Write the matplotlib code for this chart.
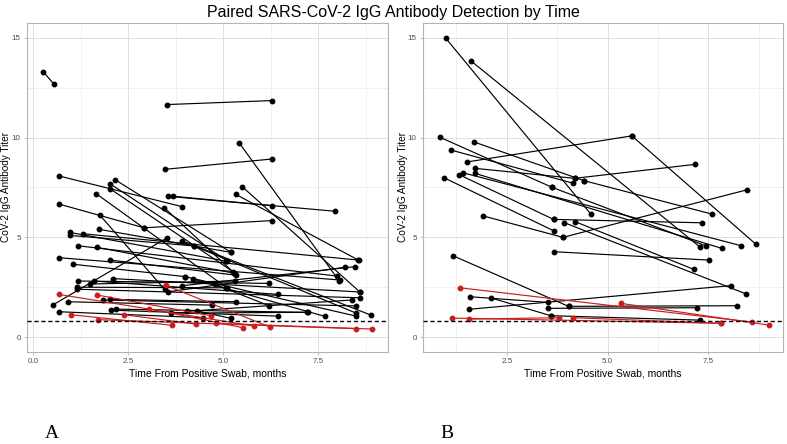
import matplotlib
matplotlib.use("Agg")
import matplotlib.pyplot as plt
from matplotlib.ticker import MultipleLocator

plt.rcParams['font.family'] = ['Liberation Sans', 'DejaVu Sans']

# paired titers: (months 1, titer 1, months 2, titer 2)
a_black = [
    (0.27, 13.30, 0.54, 12.70), (3.53, 11.66, 6.29, 11.86), (3.46, 8.41, 6.29, 8.93),
    (5.42, 9.75, 8.05, 2.83), (0.68, 8.08, 3.92, 6.54), (0.68, 6.67, 2.92, 5.48),
    (2.92, 5.48, 6.29, 5.84), (3.54, 7.06, 7.94, 6.31), (3.69, 7.06, 6.29, 6.59),
    (3.45, 6.49, 5.32, 3.16), (1.66, 7.19, 5.10, 2.47), (2.16, 7.89, 5.21, 4.25),
    (2.03, 7.68, 5.10, 3.83), (2.03, 7.43, 5.26, 3.28), (5.51, 7.53, 8.60, 2.26),
    (5.33, 7.16, 8.56, 3.86), (1.76, 6.11, 3.46, 2.39), (0.96, 5.25, 5.07, 3.81),
    (0.96, 5.10, 4.23, 4.57), (1.31, 5.18, 8.57, 3.86), (1.74, 5.40, 5.20, 4.25),
    (1.17, 4.58, 7.99, 3.06), (1.68, 4.50, 5.30, 3.20), (0.67, 3.98, 8.08, 2.86),
    (1.06, 3.65, 4.00, 3.03), (2.03, 3.86, 5.35, 3.10), (2.11, 2.93, 8.61, 2.26),
    (1.17, 2.81, 6.22, 2.69), (1.16, 2.50, 5.07, 2.47), (1.50, 2.66, 5.32, 2.81),
    (1.59, 2.81, 6.44, 2.14), (1.15, 2.40, 8.59, 1.97), (0.91, 1.77, 4.72, 1.60),
    (0.53, 1.62, 3.53, 4.98), (0.67, 1.27, 4.48, 0.97), (2.04, 1.35, 6.44, 1.05),
    (2.18, 1.40, 7.20, 1.24), (1.83, 1.86, 8.50, 1.56), (2.03, 1.89, 5.34, 1.77),
    (3.92, 4.83, 8.89, 1.10), (4.23, 4.57, 8.50, 1.20), (4.00, 3.03, 8.50, 1.05),
    (4.22, 2.90, 7.67, 1.04), (3.62, 1.20, 7.24, 1.24), (4.06, 1.29, 8.39, 1.86),
    (4.32, 1.31, 5.20, 0.94), (4.79, 2.64, 6.22, 1.56), (3.56, 2.27, 8.21, 3.50),
    (3.91, 2.57, 8.47, 3.53),
]
a_red = [
    (0.67, 2.14, 5.82, 0.55), (0.99, 1.12, 3.65, 0.59), (1.72, 0.87, 8.50, 0.42),
    (2.40, 1.12, 4.28, 0.65), (3.05, 1.42, 5.52, 0.47), (3.49, 2.59, 6.24, 0.50),
    (4.82, 0.69, 8.93, 0.40), (1.68, 2.11, 4.68, 1.07),
]
b_black = [
    (0.98, 15.00, 4.58, 6.17), (1.61, 13.85, 7.30, 4.50), (0.84, 10.02, 3.62, 7.51),
    (3.62, 7.51, 7.44, 4.57), (1.69, 9.78, 4.42, 7.84), (4.42, 7.84, 7.60, 6.16),
    (1.11, 9.38, 4.15, 7.71), (1.51, 8.78, 5.60, 10.09), (5.60, 10.09, 8.68, 4.65),
    (1.71, 8.46, 4.18, 7.96), (4.18, 7.96, 7.17, 8.66), (1.71, 8.21, 7.83, 4.45),
    (1.41, 8.24, 8.31, 4.58), (1.32, 8.14, 3.66, 5.90), (0.95, 7.98, 3.66, 5.33),
    (1.92, 6.07, 3.89, 5.00), (3.66, 5.90, 7.34, 5.73), (3.66, 4.28, 7.51, 3.86),
    (3.89, 5.00, 8.45, 7.38), (3.92, 5.74, 8.44, 2.16), (4.19, 5.79, 7.13, 3.40),
    (1.16, 4.08, 4.03, 1.54), (1.59, 2.02, 3.51, 1.74), (2.11, 1.96, 3.59, 1.07),
    (3.59, 1.07, 7.28, 0.85), (1.55, 1.39, 8.06, 2.58), (3.51, 1.44, 7.21, 1.47),
    (4.03, 1.54, 8.21, 1.57),
]
b_red = [
    (1.34, 2.47, 8.58, 0.75), (5.33, 1.69, 9.00, 0.60), (1.15, 0.95, 7.81, 0.69),
    (1.55, 0.90, 3.80, 0.97), (4.13, 0.97, 7.81, 0.69),
]
cutoff = 0.8
x_ticks = [0, 2.5, 5.0, 7.5]
y_ticks = [0, 5, 10, 15]

RED = '#c81e1e'
fig = plt.figure(figsize=(7.87, 4.44), dpi=100)
axA = fig.add_axes([27/787, 92/444, 361/787, 329/444])
axB = fig.add_axes([423/787, 92/444, 360/787, 329/444])


def panel(ax, black, red, xlim):
    for t1, y1, t2, y2 in black:
        ax.plot([t1, t2], [y1, y2], '-o', color='black', lw=0.85, ms=3.2, zorder=3)
    for t1, y1, t2, y2 in red:
        ax.plot([t1, t2], [y1, y2], '-o', color=RED, lw=0.85, ms=3.2, zorder=4)
    ax.axhline(cutoff, color='black', ls=(0, (3, 2)), lw=1.0, zorder=5)
    ax.set_xticks(x_ticks)
    ax.set_xticklabels(['%.1f' % v for v in x_ticks])
    ax.set_yticks(y_ticks)
    ax.xaxis.set_minor_locator(MultipleLocator(1.25))
    ax.yaxis.set_minor_locator(MultipleLocator(2.5))
    ax.set_xlim(xlim)
    ax.set_ylim(-0.75, 15.75)
    ax.grid(which='major', color='#dedede', lw=0.7)
    ax.grid(which='minor', color='#ececec', lw=0.5)
    ax.set_axisbelow(True)
    for s in ax.spines.values():
        s.set_color('#b3b3b3')
        s.set_linewidth(0.8)
    ax.tick_params(which='major', length=2.5, width=0.6, color='#b3b3b3',
                   labelsize=5.8, labelcolor='#4d4d4d', pad=2)
    ax.tick_params(which='minor', length=0)
    ax.set_xlabel('Time From Positive Swab, months', fontsize=7.5, labelpad=2)


panel(axA, a_black, a_red, (-0.16, 9.34))
panel(axB, b_black, b_red, (0.42, 9.35))

ymid = 1 - 187/444
fig.text(6/787, ymid, 'CoV-2 IgG Antibody Titer', rotation=90,
         ha='center', va='center', fontsize=7.2)
fig.text(403/787, ymid, 'CoV-2 IgG Antibody Titer', rotation=90,
         ha='center', va='center', fontsize=7.2)

fig.text(0.5, 1 - 12/444, 'Paired SARS-CoV-2 IgG Antibody Detection by Time',
         ha='center', va='center', fontsize=11.5)
fig.text(52/787, 1 - 433/444, 'A', ha='center', va='center',
         fontsize=14, family='Liberation Serif')
fig.text(447/787, 1 - 433/444, 'B', ha='center', va='center',
         fontsize=14, family='Liberation Serif')

fig.savefig('out.png', dpi=100)
